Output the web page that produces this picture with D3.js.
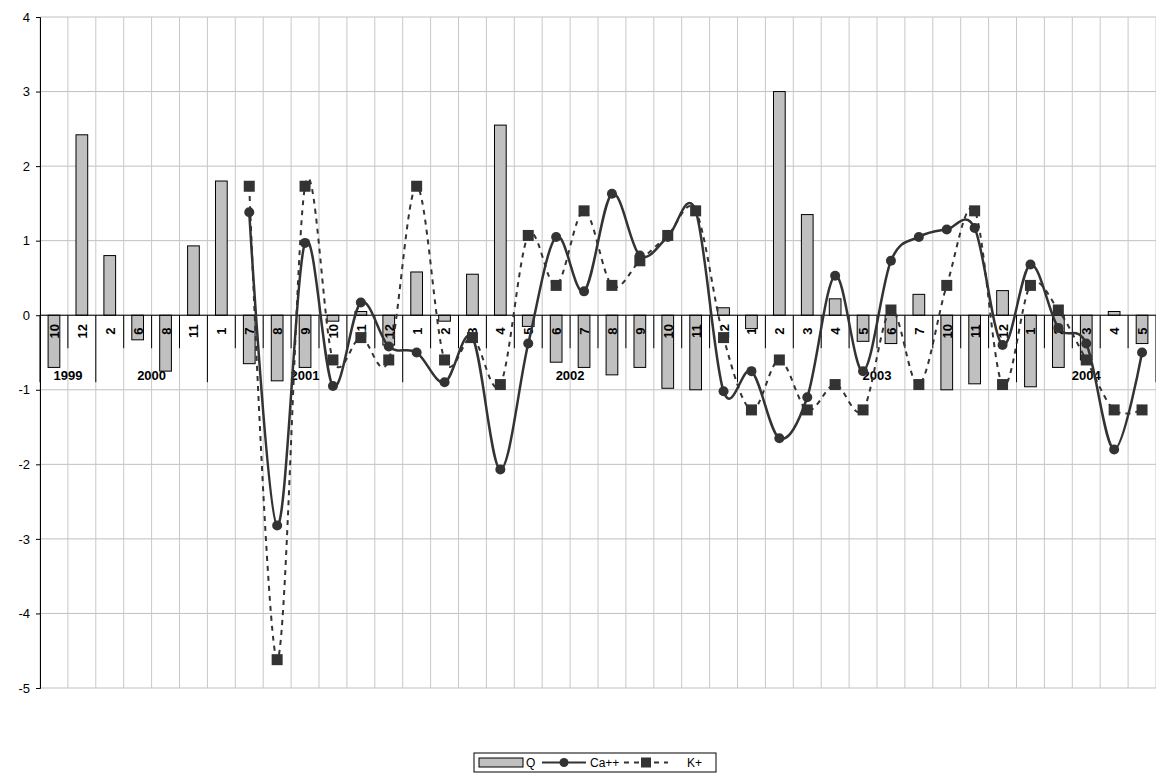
<!DOCTYPE html>
<html>
<head>
<meta charset="utf-8">
<script src="https://cdn.jsdelivr.net/npm/d3@7"></script>
<style>
  body { margin: 0; background: #fff; }
  text { font-family: Arial, "Liberation Sans", sans-serif; }
</style>
</head>
<body>
<svg id="chart" width="1156" height="781"></svg>
<script>
// month labels (category axis, inner level)
const months = ['10','12','2','6','8','11','1','7','8','9','10','11','12','1','2','3','4','5','6','7','8','9','10','11','12','1','2','3','4','5','6','7','10','11','12','1','2','3','4','5']
// year groups: label and number of months
const years = ['1999','2000','2001','2002','2003','2004']
const yearCounts = [2, 4, 7, 12, 10, 5]

const qValues = [-0.7,2.42,0.8,-0.33,-0.75,0.93,1.8,-0.65,-0.88,-0.7,-0.08,0.05,-0.4,0.58,-0.08,0.55,2.55,-0.15,-0.63,-0.7,-0.8,-0.7,-0.98,-1.0,0.1,-0.18,3.0,1.35,0.22,-0.35,-0.38,0.28,-1.0,-0.92,0.33,-0.96,-0.7,-0.6,0.05,-0.38]
const caValues = [null,null,null,null,null,null,null,1.38,-2.82,0.97,-0.95,0.17,-0.42,-0.5,-0.9,-0.3,-2.07,-0.38,1.05,0.32,1.63,0.8,1.05,1.4,-1.02,-0.75,-1.65,-1.1,0.53,-0.75,0.73,1.05,1.15,1.17,-0.4,0.68,-0.17,-0.38,-1.8,-0.5]
const kValues = [null,null,null,null,null,null,null,1.73,-4.62,1.73,-0.6,-0.3,-0.6,1.73,-0.6,-0.3,-0.93,1.07,0.4,1.4,0.4,0.73,1.07,1.4,-0.3,-1.27,-0.6,-1.27,-0.93,-1.27,0.07,-0.93,0.4,1.4,-0.93,0.4,0.07,-0.6,-1.27,-1.27]
const yTicks = [4,3,2,1,0,-1,-2,-3,-4,-5]

const margin = { left: 40, top: 17 }
const width = 1116, height = 671

const svg = d3.select('#chart')
const g = svg.append('g').attr('transform', `translate(${margin.left},${margin.top})`)

const idx = d3.range(months.length)
const xScale = d3.scaleBand().domain(idx).range([0, width])
const yScale = d3.scaleLinear().domain([-5, 4]).range([height, 0])
const bw = xScale.bandwidth()

// horizontal grid
g.append('g').selectAll('line').data(yTicks).join('line')
  .attr('x1', 0).attr('x2', width)
  .attr('y1', d => yScale(d)).attr('y2', d => yScale(d))
  .attr('stroke', '#c0c0c0').attr('stroke-width', 1)

// vertical grid at category boundaries
g.append('g').selectAll('line').data(d3.range(months.length + 1)).join('line')
  .attr('x1', d => d * bw).attr('x2', d => d * bw)
  .attr('y1', 0).attr('y2', height)
  .attr('stroke', '#c8c8c8').attr('stroke-width', 1)

// y axis
const yAxis = d3.axisLeft(yScale).tickValues(yTicks).tickSize(4).tickPadding(6).tickFormat(d => String(d))
g.append('g').call(yAxis)
  .call(a => a.select('.domain').attr('stroke', '#000'))
  .call(a => a.selectAll('text').attr('font-size', 13).attr('font-family', 'Arial, "Liberation Sans", sans-serif'))

// bars
g.append('g').selectAll('rect').data(qValues).join('rect')
  .attr('x', (d, i) => xScale(i) + bw * 0.29)
  .attr('width', bw * 0.42)
  .attr('y', d => yScale(Math.max(0, d)))
  .attr('height', d => Math.abs(yScale(d) - yScale(0)))
  .attr('fill', '#c0c0c0').attr('stroke', '#000').attr('stroke-width', 1)

// zero axis line
const y0 = yScale(0)
g.append('line').attr('x1', 0).attr('x2', width).attr('y1', y0).attr('y2', y0)
  .attr('stroke', '#000')

// month tick marks and labels
const yearStarts = [0]
yearCounts.forEach((c, i) => yearStarts.push(yearStarts[i] + c))
g.append('g').selectAll('line').data(d3.range(months.length + 1)).join('line')
  .attr('x1', d => d * bw).attr('x2', d => d * bw)
  .attr('y1', y0)
  .attr('y2', d => yearStarts.includes(d) ? y0 + 67 : y0 + 33)
  .attr('stroke', '#000')

g.append('g').selectAll('text').data(months).join('text')
  .attr('transform', (d, i) => `translate(${xScale(i) + bw / 2 + 5},${y0 + 16}) rotate(-90)`)
  .attr('text-anchor', 'middle')
  .attr('font-size', 13).attr('font-weight', 'bold')
  .text(d => d)

g.append('g').selectAll('text').data(years).join('text')
  .attr('x', (d, i) => (yearStarts[i] + yearCounts[i] / 2) * bw)
  .attr('y', y0 + 65)
  .attr('text-anchor', 'middle')
  .attr('font-size', 13).attr('font-weight', 'bold')
  .text(d => d)

// lines
const smooth = d3.line()
  .defined(d => d != null)
  .x((d, i) => xScale(i) + bw / 2)
  .y(d => yScale(d))
  .curve(d3.curveCatmullRom.alpha(0))

g.append('path').datum(kValues).attr('d', smooth)
  .attr('fill', 'none').attr('stroke', '#333').attr('stroke-width', 2)
  .attr('stroke-dasharray', '5,5')

g.append('path').datum(caValues).attr('d', smooth)
  .attr('fill', 'none').attr('stroke', '#333').attr('stroke-width', 2.5)

g.append('g').selectAll('rect').data(kValues.map((v, i) => [v, i]).filter(d => d[0] != null)).join('rect')
  .attr('x', d => xScale(d[1]) + bw / 2 - 5.5)
  .attr('y', d => yScale(d[0]) - 5.5)
  .attr('width', 11).attr('height', 11)
  .attr('fill', '#333')

g.append('g').selectAll('circle').data(caValues.map((v, i) => [v, i]).filter(d => d[0] != null)).join('circle')
  .attr('cx', d => xScale(d[1]) + bw / 2)
  .attr('cy', d => yScale(d[0]))
  .attr('r', 5).attr('fill', '#333')

// legend
const lg = svg.append('g').attr('transform', 'translate(474,753)')
lg.append('rect').attr('width', 242).attr('height', 19).attr('fill', '#fff').attr('stroke', '#000')
lg.append('rect').attr('x', 5).attr('y', 5).attr('width', 44).attr('height', 9)
  .attr('fill', '#c0c0c0').attr('stroke', '#000')
lg.append('text').attr('x', 52).attr('y', 14).attr('font-size', 12).text('Q')
lg.append('line').attr('x1', 68).attr('x2', 112).attr('y1', 9.5).attr('y2', 9.5)
  .attr('stroke', '#333').attr('stroke-width', 2)
lg.append('circle').attr('cx', 90).attr('cy', 9.5).attr('r', 4.5).attr('fill', '#333')
lg.append('text').attr('x', 116).attr('y', 14).attr('font-size', 12).text('Ca++')
lg.append('line').attr('x1', 150).attr('x2', 194).attr('y1', 9.5).attr('y2', 9.5)
  .attr('stroke', '#333').attr('stroke-width', 2).attr('stroke-dasharray', '5,5')
lg.append('rect').attr('x', 167).attr('y', 4.5).attr('width', 10).attr('height', 10).attr('fill', '#333')
lg.append('text').attr('x', 213).attr('y', 14).attr('font-size', 12).text('K+')
</script>
</body>
</html>
